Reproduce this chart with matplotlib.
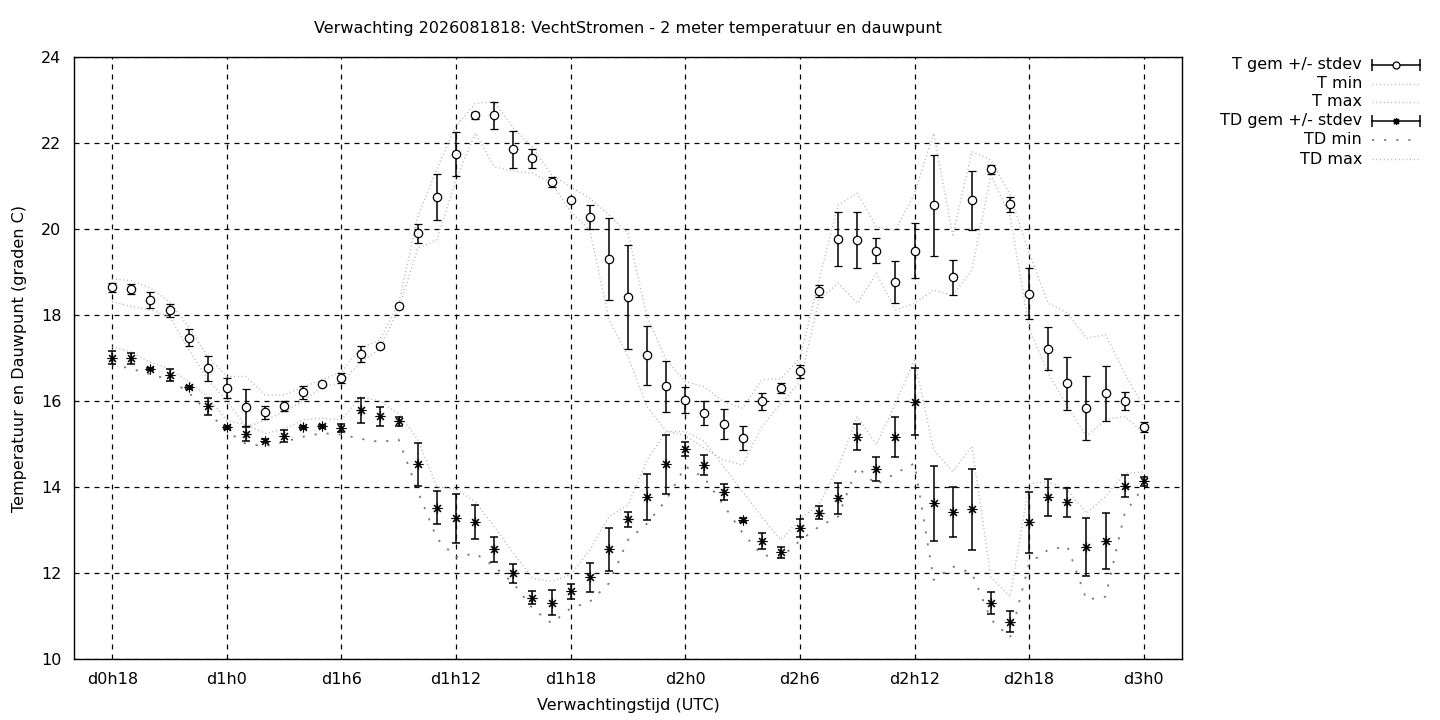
import matplotlib
matplotlib.use("Agg")
import matplotlib.pyplot as plt
from matplotlib.lines import Line2D

# hours since d0h18, one forecast value per hour
hours = list(range(55))
tick_hours = list(range(0, 55, 6))
tick_labels = ["d0h18", "d1h0", "d1h6", "d1h12", "d1h18",
               "d2h0", "d2h6", "d2h12", "d2h18", "d3h0"]

t_mean = [18.64, 18.60, 18.35, 18.11, 17.47, 16.76, 16.30, 15.85, 15.74, 15.89,
          16.20, 16.40, 16.53, 17.09, 17.28, 18.21, 19.90, 20.74, 21.74, 22.64,
          22.64, 21.85, 21.64, 21.09, 20.67, 20.27, 19.30, 18.41, 17.06, 16.34,
          16.02, 15.72, 15.46, 15.15, 15.99, 16.30, 16.69, 18.56, 19.76, 19.74,
          19.50, 18.76, 19.50, 20.55, 18.88, 20.67, 21.39, 20.57, 18.50, 17.22,
          16.41, 15.83, 16.18, 16.00, 15.39]
t_std = [0.11, 0.11, 0.18, 0.15, 0.20, 0.29, 0.24, 0.43, 0.15, 0.12,
         0.15, 0.03, 0.12, 0.19, 0.05, 0.03, 0.22, 0.53, 0.51, 0.09,
         0.31, 0.43, 0.21, 0.11, 0.03, 0.28, 0.95, 1.21, 0.69, 0.60,
         0.31, 0.27, 0.35, 0.28, 0.20, 0.12, 0.15, 0.14, 0.63, 0.65,
         0.30, 0.49, 0.63, 1.18, 0.41, 0.69, 0.10, 0.17, 0.59, 0.50,
         0.62, 0.74, 0.64, 0.20, 0.12]
t_min = [18.31, 18.20, 18.12, 17.97, 17.20, 16.50, 16.00, 15.40, 15.55, 15.75,
         16.00, 16.33, 16.42, 16.90, 17.20, 18.15, 19.55, 19.75, 21.15, 22.23,
         21.45, 21.34, 21.30, 21.07, 20.40, 19.98, 17.90, 17.03, 15.87, 15.30,
         15.20, 14.90, 14.63, 14.51, 15.40, 15.94, 16.45, 18.35, 18.74, 18.27,
         18.97, 18.12, 18.27, 18.58, 18.45, 19.05, 21.25, 20.30, 17.70, 16.64,
         15.87, 15.18, 15.57, 15.64, 15.26]
t_max = [18.84, 18.80, 18.62, 18.31, 17.73, 17.03, 16.57, 16.57, 16.14, 16.14,
         16.33, 16.49, 16.68, 17.23, 17.42, 18.27, 20.30, 21.40, 22.40, 22.92,
         22.96, 22.35, 21.90, 21.26, 20.98, 20.71, 20.33, 19.90, 17.96, 16.95,
         16.45, 16.33, 15.98, 15.83, 16.49, 16.52, 17.00, 18.81, 20.56, 20.83,
         20.05, 19.97, 20.83, 22.23, 19.86, 21.80, 21.60, 20.80, 19.43, 18.27,
         18.05, 17.46, 17.54, 16.64, 15.87]

td_mean = [17.01, 16.99, 16.74, 16.60, 16.32, 15.88, 15.39, 15.23, 15.08, 15.18,
           15.39, 15.41, 15.37, 15.78, 15.64, 15.53, 14.53, 13.52, 13.27, 13.18,
           12.55, 11.99, 11.43, 11.31, 11.57, 11.90, 12.55, 13.25, 13.77, 14.53,
           14.88, 14.51, 13.88, 13.23, 12.74, 12.48, 13.04, 13.40, 13.74, 15.16,
           14.42, 15.16, 15.98, 13.62, 13.41, 13.48, 11.30, 10.87, 13.18, 13.76,
           13.64, 12.60, 12.74, 14.02, 14.13]
td_std = [0.15, 0.13, 0.03, 0.14, 0.03, 0.20, 0.03, 0.17, 0.04, 0.14,
          0.03, 0.03, 0.10, 0.30, 0.22, 0.10, 0.50, 0.38, 0.57, 0.40,
          0.29, 0.23, 0.16, 0.29, 0.17, 0.34, 0.50, 0.17, 0.54, 0.69,
          0.17, 0.23, 0.19, 0.05, 0.19, 0.12, 0.21, 0.15, 0.36, 0.31,
          0.28, 0.47, 0.78, 0.88, 0.58, 0.94, 0.26, 0.24, 0.71, 0.43,
          0.34, 0.67, 0.65, 0.26, 0.11]
td_min = [16.85, 16.75, 16.62, 16.50, 16.20, 15.75, 15.30, 15.00, 14.95, 15.05,
          15.17, 15.25, 15.22, 15.12, 15.05, 15.10, 13.90, 12.80, 12.36, 12.46,
          12.15, 11.76, 11.18, 10.83, 11.18, 11.33, 11.76, 12.77, 13.15, 13.70,
          14.48, 14.21, 13.58, 12.93, 12.42, 12.36, 12.75, 13.08, 13.31, 14.47,
          14.05, 14.32, 14.55, 11.84, 12.15, 12.00, 10.92, 10.50, 12.23, 12.54,
          12.62, 11.38, 11.45, 13.39, 14.01]
td_max = [17.26, 17.14, 16.90, 16.75, 16.45, 16.10, 15.55, 15.45, 15.25, 15.35,
          15.56, 15.60, 15.56, 16.10, 16.00, 15.70, 15.10, 14.00, 13.95, 13.66,
          13.08, 12.46, 11.88, 11.80, 11.96, 12.54, 13.31, 13.58, 14.63, 15.29,
          15.29, 15.06, 14.48, 13.89, 13.31, 12.77, 13.25, 13.60, 14.45, 15.64,
          14.98, 15.95, 16.95, 14.86, 14.36, 14.95, 11.90, 11.45, 14.08, 14.12,
          13.93, 13.39, 13.78, 14.32, 14.35]

plt.rcParams['font.family'] = 'DejaVu Sans'
plt.rcParams['font.size'] = 11.5

fig = plt.figure(figsize=(14.4, 7.2), dpi=100)
ax = fig.add_axes([74 / 1440, 1 - 659 / 720, (1182 - 74) / 1440, (659 - 57) / 720])

fine_dot = (0, (0.7, 2.0))
sparse_dot = (0, (1.2, 5.5))
light = '#b0b0b0'
dark = '#7a7a7a'

ax.plot(hours, t_min, color=light, lw=1.0, linestyle=fine_dot, zorder=2)
ax.plot(hours, t_max, color=light, lw=1.0, linestyle=fine_dot, zorder=2)
ax.plot(hours, td_min, color=dark, lw=1.3, linestyle=sparse_dot, zorder=2)
ax.plot(hours, td_max, color=light, lw=1.0, linestyle=fine_dot, zorder=2)

ax.errorbar(hours, t_mean, yerr=t_std, fmt='o', color='black', ecolor='black',
            elinewidth=1.1, capsize=3, capthick=1.1, markersize=6,
            markerfacecolor='white', markeredgecolor='black', markeredgewidth=0.9, zorder=4)
ax.errorbar(hours, td_mean, yerr=td_std, fmt='none', ecolor='black',
            elinewidth=1.1, capsize=3, capthick=1.1, zorder=4)
ax.plot(hours, td_mean, linestyle='none', marker=(8, 2, 0), markersize=7,
        color='black', markeredgewidth=0.8, zorder=5)

ax.set_xlim(-2, 56)
ax.set_ylim(10, 24)
ax.set_xticks(tick_hours)
ax.set_xticklabels(tick_labels)
ax.set_yticks(range(10, 25, 2))
ax.tick_params(length=0, pad=9)
ax.grid(True, color='black', linestyle=(0, (4, 4)), linewidth=0.9)
ax.set_axisbelow(True)
for sp in ax.spines.values():
    sp.set_linewidth(1.0)

ax.set_title("Verwachting 2026081818: VechtStromen - 2 meter temperatuur en dauwpunt",
             fontsize=11.5, pad=17)
ax.set_xlabel("Verwachtingstijd (UTC)", labelpad=8)
ax.set_ylabel("Temperatuur en Dauwpunt (graden C)", labelpad=10)

# legend, drawn gnuplot-style at the top right of the figure
rows = [65, 84, 102, 121, 140, 159]
labels = ["T gem +/- stdev", "T min", "T max", "TD gem +/- stdev", "TD min", "TD max"]
x_text = 1362 / 1440
x0, x1 = 1372 / 1440, 1420 / 1440
for r, lab in zip(rows, labels):
    yy = 1 - r / 720
    fig.text(x_text, yy, lab, ha='right', va='center', fontsize=11.5)
    if 'gem' in lab:
        fig.add_artist(Line2D([x0, x1], [yy, yy], transform=fig.transFigure,
                              color='black', lw=1.1))
        fig.add_artist(Line2D([x0, x1], [yy, yy], transform=fig.transFigure,
                              linestyle='none', marker='|', markersize=8,
                              color='black', markeredgewidth=1.1))
        mk = 'o' if lab.startswith('T ') else (8, 2, 0)
        fig.add_artist(Line2D([(x0 + x1) / 2], [yy], transform=fig.transFigure,
                              linestyle='none', marker=mk, markersize=5,
                              markerfacecolor='white', markeredgecolor='black',
                              markeredgewidth=0.9, color='black'))
    elif lab == "TD min":
        fig.add_artist(Line2D([x0, x1], [yy, yy], transform=fig.transFigure,
                              color=dark, lw=1.3, linestyle=sparse_dot))
    else:
        fig.add_artist(Line2D([x0, x1], [yy, yy], transform=fig.transFigure,
                              color=light, lw=1.0, linestyle=fine_dot))

fig.savefig('out.png', dpi=100)
